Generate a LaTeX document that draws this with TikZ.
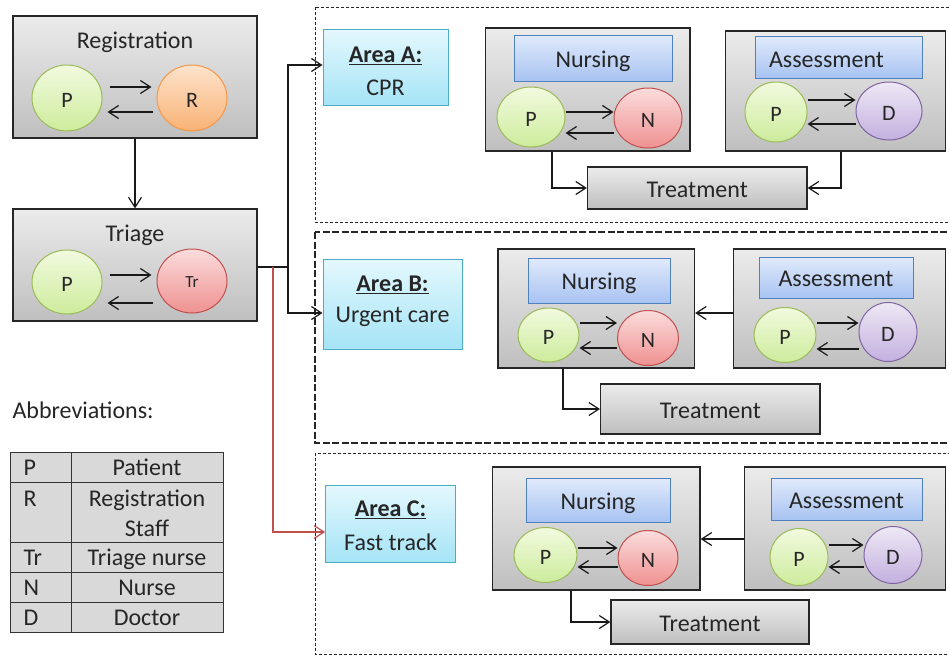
\documentclass[tikz,border=0pt]{standalone}
\usepackage{fontspec}
\setmainfont{Carlito}
\usetikzlibrary{arrows.meta,shapes.geometric}
\definecolor{boxtop}{HTML}{EBEBEB}
\definecolor{boxbot}{HTML}{BFBFBF}
\definecolor{grtop}{HTML}{F2FADF}
\definecolor{grbot}{HTML}{CDEC9C}
\definecolor{grline}{HTML}{9BBB59}
\definecolor{ortop}{HTML}{FDE3CC}
\definecolor{orbot}{HTML}{F9B275}
\definecolor{orline}{HTML}{F79646}
\definecolor{rdtop}{HTML}{FBDCDC}
\definecolor{rdbot}{HTML}{EF9191}
\definecolor{rdline}{HTML}{C0504D}
\definecolor{pptop}{HTML}{EEE8F5}
\definecolor{ppbot}{HTML}{C3B0DF}
\definecolor{ppline}{HTML}{8064A2}
\definecolor{bltop}{HTML}{E0EAFB}
\definecolor{blbot}{HTML}{A8C3F2}
\definecolor{blline}{HTML}{4F81BD}
\definecolor{cytop}{HTML}{E4F8FD}
\definecolor{cybot}{HTML}{A5E4F6}
\definecolor{cyline}{HTML}{4BACC6}
\definecolor{tabfill}{HTML}{D9D9D9}
\definecolor{txtc}{HTML}{262626}
\begin{document}
\begin{tikzpicture}[x=1pt,y=-1pt,
  every node/.style={font=\fontsize{24}{28}\selectfont, text=txtc, text height=18.4pt, text depth=0pt},
  gbox/.style={draw=black!85, line width=1.3pt, top color=boxtop, bottom color=boxbot, inner sep=0pt, rectangle},
  circ/.style={ellipse, line width=1pt, inner sep=0pt, font=\fontsize{22}{26}\selectfont},
  greenc/.style={circ, draw=grline, top color=grtop, bottom color=grbot},
  orangec/.style={circ, draw=orline, top color=ortop, bottom color=orbot},
  redc/.style={circ, draw=rdline, top color=rdtop, bottom color=rdbot},
  purplec/.style={circ, draw=ppline, top color=pptop, bottom color=ppbot},
  bhdr/.style={rectangle, draw=blline, line width=1pt, top color=bltop, bottom color=blbot, inner sep=0pt},
  cybox/.style={rectangle, draw=cyline, line width=1pt, top color=cytop, bottom color=cybot, inner sep=0pt},
  arr/.style={draw=black!90, line width=1.2pt, -{Straight Barb[length=10pt,width=13pt,line width=1.2pt]}},
  conn/.style={draw=black!90, line width=1.2pt},
  area/.style={draw=black!85, line width=1pt, dash pattern=on 3pt off 2pt},
  areab/.style={draw=black!85, line width=1.2pt, dash pattern=on 7pt off 2.5pt},
]
\useasboundingbox (0,0) rectangle (949,656);

% ---------- Registration ----------
\node[gbox, minimum width=244pt, minimum height=122pt] (reg) at (135,77) {};
\node (regT) at (135,39.2) {Registration};
\node[greenc, minimum width=70pt, minimum height=66pt] (regP) at (67,98) {P};
\node[orangec, minimum width=70pt, minimum height=66pt] (regR) at (192,98) {R};
\draw[arr, shorten <=7pt, shorten >=5pt] (regP.east |- 0,87) -- (regR.west |- 0,87);
\draw[arr, shorten <=4pt, shorten >=5pt] (regR.west |- 0,112) -- (regP.east |- 0,112);

% ---------- Triage ----------
\node[gbox, minimum width=244pt, minimum height=112pt] (tri) at (135,265) {};
\node (triT) at (135,232.2) {Triage};
\node[greenc, minimum width=70pt, minimum height=64pt] (triP) at (67,282) {P};
\node[redc, minimum width=70pt, minimum height=64pt, font=\fontsize{17}{20}\selectfont, text height=13pt] (triR) at (192,281) {Tr};
\draw[arr, shorten <=7pt, shorten >=5pt] (triP.east |- 0,275) -- (triR.west |- 0,275);
\draw[arr, shorten <=4pt, shorten >=5pt] (triR.west |- 0,303) -- (triP.east |- 0,303);

\draw[arr] (reg.south) -- (tri.north);

% ---------- Area frames ----------
\draw[area] (315,7) rectangle (952,222);
\draw[areab] (315,232) rectangle (952,443);
\draw[area] (315,453) rectangle (952,654);

% ---------- Area labels ----------
\node[cybox, minimum width=125pt, minimum height=76pt] (areaA) at (385.5,67) {};
\node (areaAt) at (385.5,53.5) {\textbf{\underline{Area A:}}};
\node (areaAs) at (385.5,86.5) {CPR};
\node[cybox, minimum width=139pt, minimum height=90pt] (areaB) at (392.5,304) {};
\node (areaBt) at (392.5,282.3) {\textbf{\underline{Area B:}}};
\node (areaBs) at (392.5,313.5) {Urgent care};
\node[cybox, minimum width=130pt, minimum height=77pt] (areaC) at (390.6,523.5) {};
\node (areaCt) at (390.6,507.7) {\textbf{\underline{Area C:}}};
\node (areaCs) at (390.6,541) {Fast track};

% ---------- Triage connectors ----------
\coordinate (jb) at (288,267);
\coordinate (jr) at (273,267);
\draw[conn] (tri.east |- 0,267) -- (jb);
\draw[arr] (jb) |- (areaA.west |- 0,65);
\draw[arr] (jb) |- (areaB.west |- 0,313);
\draw[arr, draw=rdline] (jr) |- (areaC.west |- 0,532);

% ---------- Area A ----------
\node[gbox, minimum width=204.5pt, minimum height=123pt] (nurA) at (587.75,89.5) {};
\node[bhdr, minimum width=158pt, minimum height=46pt] (nurAh) at (593,58) {Nursing};
\node[greenc, minimum width=68pt, minimum height=60pt] (nurAP) at (531,117) {P};
\node[redc, minimum width=68pt, minimum height=60pt] (nurAN) at (648,118) {N};
\draw[arr] (nurAP.east |- 0,112) -- (nurAN.west |- 0,112);
\draw[arr] (nurAN.west |- 0,133) -- (nurAP.east |- 0,133);

\node[gbox, minimum width=220pt, minimum height=120pt] (assA) at (835.5,91) {};
\node[bhdr, minimum width=167pt, minimum height=42pt] (assAh) at (838.5,57) {};
\node (assAt) at (826.5,58.5) {Assessment};
\node[greenc, minimum width=62pt, minimum height=60pt] (assAP) at (776,112) {P};
\node[purplec, minimum width=66pt, minimum height=58pt] (assAD) at (889,111) {D};
\draw[arr] (assAP.east |- 0,100) -- (assAD.west |- 0,100);
\draw[arr] (assAD.west |- 0,124) -- (assAP.east |- 0,124);

\node[gbox, minimum width=219.5pt, minimum height=42pt] (trtA) at (697.25,188) {Treatment};
\draw[arr] (nurA.south -| 552,0) |- (trtA.west);
\draw[arr] (assA.south -| 841,0) |- (trtA.east);

% ---------- Area B ----------
\node[gbox, minimum width=196.5pt, minimum height=119pt] (nurB) at (596.25,308.5) {};
\node[bhdr, minimum width=142pt, minimum height=45pt] (nurBh) at (599,280.5) {Nursing};
\node[greenc, minimum width=61pt, minimum height=54pt] (nurBP) at (548.5,335) {P};
\node[redc, minimum width=61pt, minimum height=55pt] (nurBN) at (648,338) {N};
\draw[arr] (nurBP.east |- 0,323) -- (nurBN.west |- 0,323);
\draw[arr] (nurBN.west |- 0,348) -- (nurBP.east |- 0,348);

\node[gbox, minimum width=211.8pt, minimum height=119pt] (assB) at (839.6,308.5) {};
\node[bhdr, minimum width=154pt, minimum height=41pt] (assBh) at (836,277.5) {Assessment};
\node[greenc, minimum width=62pt, minimum height=55pt] (assBP) at (785,335) {P};
\node[purplec, minimum width=58pt, minimum height=59pt] (assBD) at (888,332) {D};
\draw[arr] (assBP.east |- 0,323) -- (assBD.west |- 0,323);
\draw[arr] (assBD.west |- 0,349) -- (assBP.east |- 0,349);
\draw[arr] (assB.west |- 0,313) -- (nurB.east |- 0,313);

\node[gbox, minimum width=219.4pt, minimum height=50pt] (trtB) at (710.3,409) {Treatment};
\draw[arr] (nurB.south -| 563,0) |- (trtB.west);

% ---------- Area C ----------
\node[gbox, minimum width=207.6pt, minimum height=123pt] (nurC) at (596.2,528.5) {};
\node[bhdr, minimum width=144pt, minimum height=44pt] (nurCh) at (598,500) {Nursing};
\node[greenc, minimum width=63pt, minimum height=55pt] (nurCP) at (545.5,555) {P};
\node[redc, minimum width=60pt, minimum height=55pt] (nurCN) at (648,558) {N};
\draw[arr] (nurCP.east |- 0,548) -- (nurCN.west |- 0,548);
\draw[arr] (nurCN.west |- 0,567) -- (nurCP.east |- 0,567);

\node[gbox, minimum width=200.8pt, minimum height=123pt] (assC) at (845.1,528.5) {};
\node[bhdr, minimum width=151pt, minimum height=42pt] (assCh) at (846.5,499) {Assessment};
\node[greenc, minimum width=58pt, minimum height=57pt] (assCP) at (799,557) {P};
\node[purplec, minimum width=58pt, minimum height=57pt] (assCD) at (893,555) {D};
\draw[arr] (assCP.east |- 0,545) -- (assCD.west |- 0,545);
\draw[arr] (assCD.west |- 0,567) -- (assCP.east |- 0,567);
\draw[arr] (assC.west |- 0,539) -- (nurC.east |- 0,539);

\node[gbox, minimum width=198pt, minimum height=44pt] (trtC) at (710,622) {Treatment};
\draw[arr] (nurC.south -| 571,0) |- (trtC.west);

% ---------- Abbreviations ----------
\node[anchor=west] (abbr) at (9,409.5) {Abbreviations:};
\fill[tabfill] (10,452) rectangle (223,632);
\draw[black!80, line width=1pt] (10,452) rectangle (223,632);
\draw[black!80, line width=1pt] (71,452) -- (71,632);
\foreach \yy in {482,542,572,602} \draw[black!80, line width=1pt] (10,\yy) -- (223,\yy);
\node[anchor=west] (tP) at (20,466) {P};
\node (tPd) at (147,466) {Patient};
\node[anchor=west] (tR) at (20,497) {R};
\node (tRd) at (147,497) {Registration};
\node (tRd2) at (147,527) {Staff};
\node[anchor=west] (tT) at (20,556) {Tr};
\node (tTd) at (147,556) {Triage nurse};
\node[anchor=west] (tN) at (20,586) {N};
\node (tNd) at (147,586) {Nurse};
\node[anchor=west] (tD) at (20,616) {D};
\node (tDd) at (147,616) {Doctor};
\end{tikzpicture}
\end{document}
